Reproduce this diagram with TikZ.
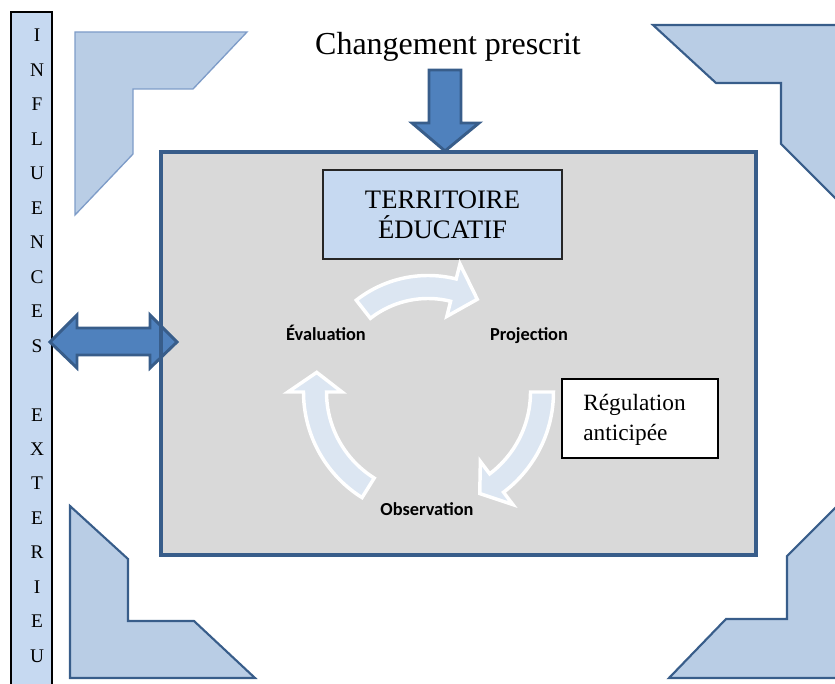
\documentclass[tikz,border=0pt]{standalone}
\usepackage{fontspec}
\setmainfont{Liberation Serif}
\newfontfamily\calib{Carlito}
\definecolor{barfill}{RGB}{198,217,241}
\definecolor{cornfill}{RGB}{185,205,229}
\definecolor{cornline}{RGB}{56,93,138}
\definecolor{cornlight}{RGB}{126,156,200}
\definecolor{boxfill}{RGB}{217,217,217}
\definecolor{arrfill}{RGB}{79,129,189}
\definecolor{cycfill}{RGB}{220,230,242}
\tikzset{
  corner/.style={fill=cornfill,draw=cornline,line width=1.6pt,line join=miter},
  bigarrow/.style={fill=arrfill,draw=cornline,line width=2.2pt,line join=miter},
  lbl/.style={font=\calib\bfseries\fontsize{13.75}{16}\selectfont,anchor=base,inner sep=0pt},
  barletter/.style={font=\fontsize{14.5}{16}\selectfont,inner sep=0pt},
}
\newcommand\cycarrow[6]{%
  \filldraw[fill=cycfill,draw=white,line width=2.6pt,line join=miter]
    plot[domain=#4:#5,samples=40] ({#1+(#3+11.5)*cos(\x)},{#2-(#3+11.5)*sin(\x)})
    -- ({#1+(#3+27)*cos(#5)},{#2-(#3+27)*sin(#5)})
    -- ({#1+#3*cos(#6)},{#2-#3*sin(#6)})
    -- ({#1+(#3-27)*cos(#5)},{#2-(#3-27)*sin(#5)})
    -- plot[domain=#5:#4,samples=40] ({#1+(#3-11.5)*cos(\x)},{#2-(#3-11.5)*sin(\x)})
    -- cycle;}
\begin{document}
\begin{tikzpicture}[x=0.75pt,y=-0.75pt]
\useasboundingbox (0,0) rectangle (835,684);
\begin{scope}
\clip (0,0) rectangle (835,684);
% corners
\draw[corner,draw=cornlight,line width=1pt] (75,32) -- (247,32) -- (193,89) -- (133,89) -- (133,154) -- (75,215) -- cycle;
\draw[corner] (653,25) -- (845,25) -- (845,208) -- (781,144) -- (781,83) -- (716,83) -- cycle;
\draw[corner] (70,506) -- (128,559) -- (128,621) -- (194,621) -- (255,678) -- (70,678) -- cycle;
\draw[corner] (845,498) -- (787,556) -- (787,619) -- (726,619) -- (669,678) -- (845,678) -- cycle;
% left bar
\draw[fill=barfill,draw=black,line width=1.2pt] (11,12) rectangle (52,700);
\end{scope}
\foreach \l [count=\i] in {I,N,F,L,U,E,N,C,E,S,{},E,X,T,E,R,I,E,U}
  \node[barletter] (bar\i) at (37,{35.5+(\i-1)*34.47}) {\l};
% main box fill
\fill[boxfill] (161,152) rectangle (756,555);
% big arrows
\draw[bigarrow] (429,70) -- (461,70) -- (461,123) -- (479,123) -- (445,151) -- (412,123) -- (429,123) -- cycle;
\draw[bigarrow] (50,342) -- (77,315) -- (77,328) -- (150,328) -- (150,315) -- (177,342) -- (150,368) -- (150,355) -- (77,355) -- (77,368) -- cycle;
% main box border
\draw[draw=cornline,line width=3pt] (161,152) rectangle (756,555);
% title
\node[font=\fontsize{24}{28}\selectfont,anchor=base,inner sep=0pt] (title) at (448,55) {Changement prescrit};
% territoire box
\node[draw=black!85,line width=1.3pt,fill=barfill,minimum width=179.25pt,minimum height=66.75pt,
      align=center,font=\fontsize{20}{22.5}\selectfont] (terr) at (442.5,214.5) {TERRITOIRE\\ÉDUCATIF};
% cycle arrows
\cycarrow{428}{392}{105}{128}{76}{62}
\cycarrow{428}{392}{114}{0}{-53}{-63}
\cycarrow{428}{392}{113}{238}{180}{170}
% labels
\node[lbl] (eval) at (326,340) {Évaluation};
\node[lbl] (proj) at (529,340) {Projection};
\node[lbl] (obs) at (427,515) {Observation};
% regulation box
\node[draw=black,line width=1.1pt,fill=white,minimum width=117pt,minimum height=59.25pt] (reg) at (640,418.5) {};
\node[anchor=west,align=left,inner sep=0pt,font=\fontsize{17.5}{22.5}\selectfont] (regtext) at (583,420) {Régulation\\anticipée};
\end{tikzpicture}
\end{document}
